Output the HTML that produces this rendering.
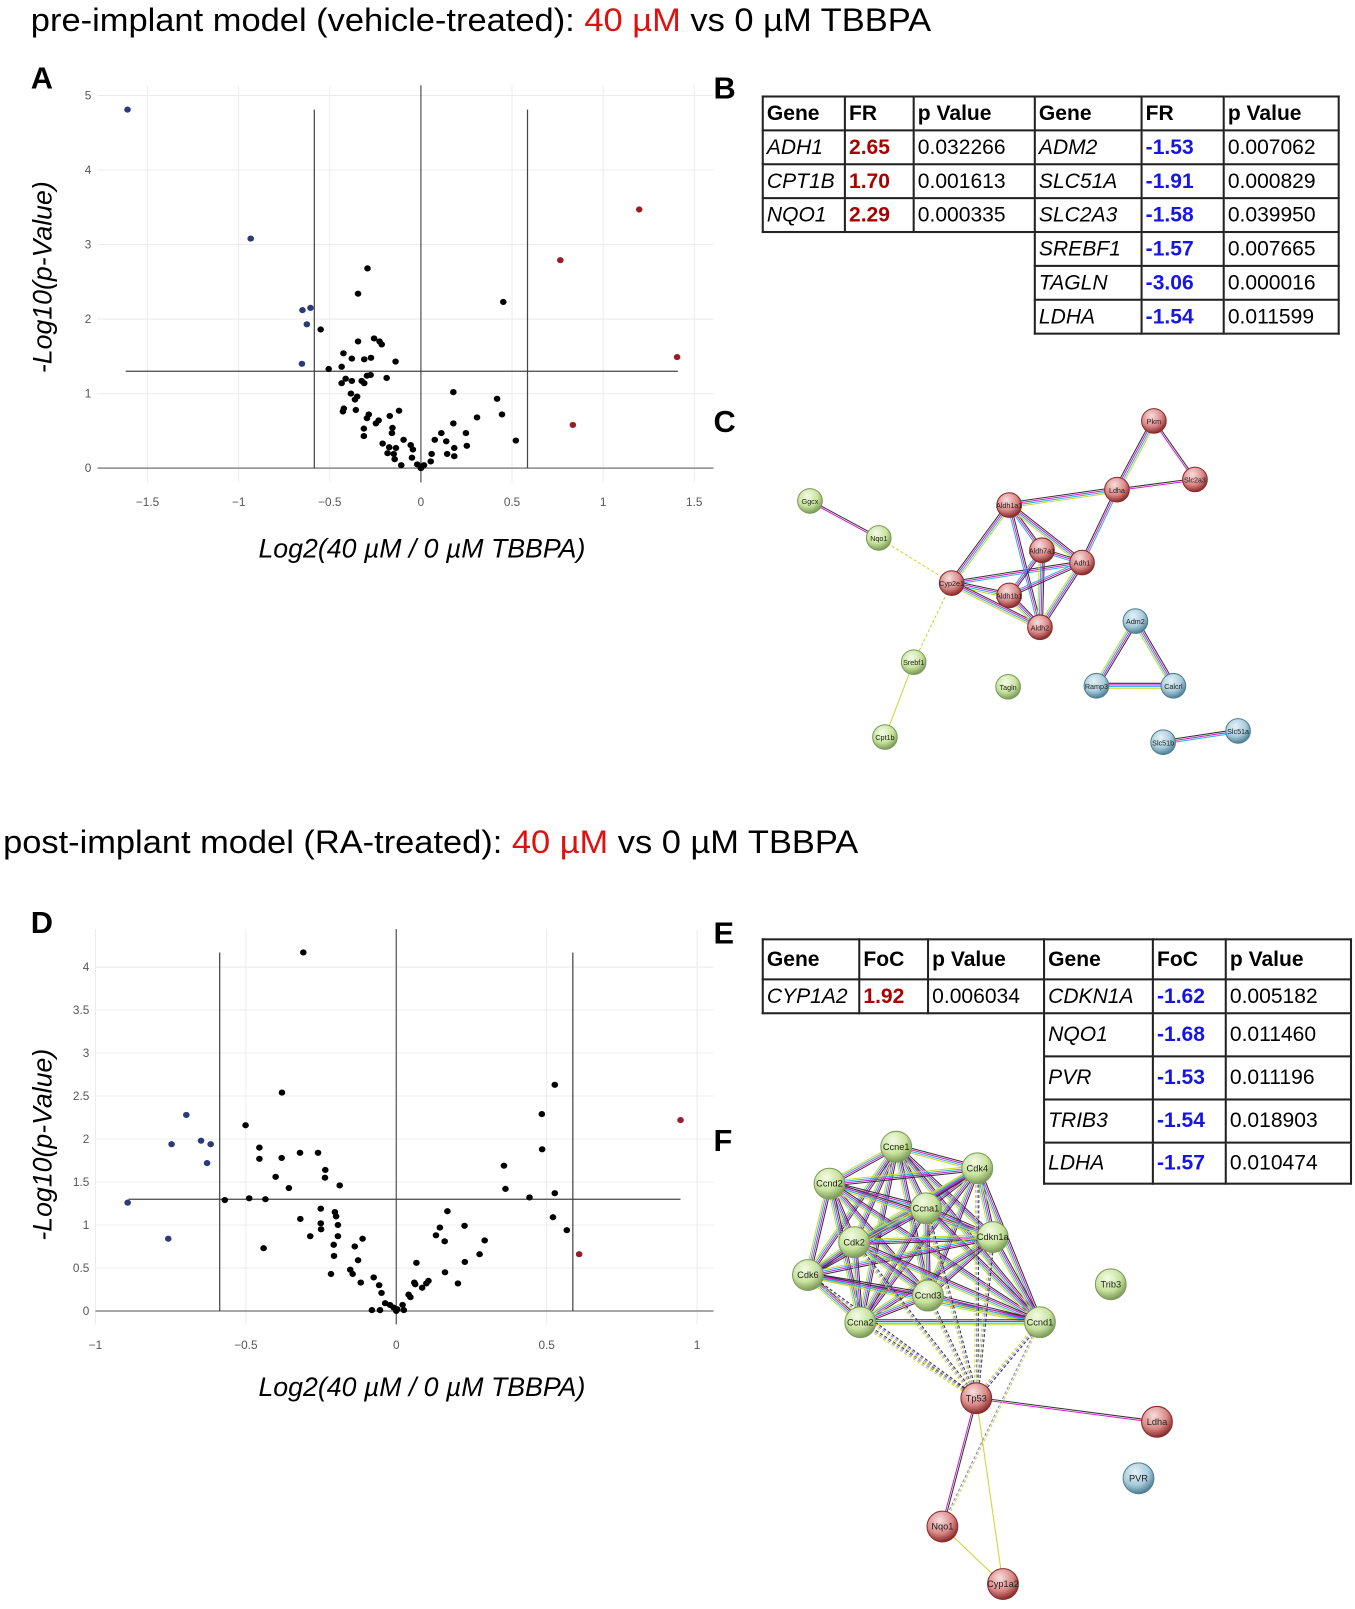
<!DOCTYPE html>
<html><head><meta charset="utf-8">
<style>
body{margin:0;background:#fff;width:1355px;height:1609px;position:relative;overflow:hidden;font-family:"Liberation Sans",sans-serif}
#wrap{position:absolute;left:0;top:0;width:1320px;height:1567px;transform:scale(1.0266);transform-origin:0 0}
table.t{position:absolute;border-collapse:collapse;font-family:"Liberation Sans",sans-serif;font-size:20.5px}
table.t td{border:2px solid #222;padding:0 0 0 3px;height:31px;white-space:nowrap}
table.t td.e{border:none}
.h{font-weight:bold}
.g{font-style:italic}
.r{color:#a00;font-weight:bold}
.b{color:#1515e6;font-weight:bold}
</style></head>
<body>
<div id="wrap">
<svg id="main" width="1320" height="1567" style="position:absolute;left:0;top:0" font-family="Liberation Sans, sans-serif">
<defs>
<radialGradient id="gG" cx="40%" cy="30%" r="70%"><stop offset="0" stop-color="#f4fbe6"/><stop offset="0.6" stop-color="#c7e39c"/><stop offset="1" stop-color="#7d9a5a"/></radialGradient>
<radialGradient id="gR" cx="40%" cy="30%" r="70%"><stop offset="0" stop-color="#f8dede"/><stop offset="0.6" stop-color="#d98a88"/><stop offset="1" stop-color="#8a2a2a"/></radialGradient>
<radialGradient id="gB" cx="40%" cy="30%" r="70%"><stop offset="0" stop-color="#e4f1f7"/><stop offset="0.6" stop-color="#a9ccdb"/><stop offset="1" stop-color="#4f7f94"/></radialGradient>
</defs>
<text x="30" y="30" font-size="32" textLength="877" lengthAdjust="spacingAndGlyphs">pre-implant model (vehicle-treated): <tspan fill="#e01010">40 µM</tspan> vs 0 µM TBBPA</text>
<text x="3" y="831" font-size="32" textLength="833" lengthAdjust="spacingAndGlyphs">post-implant model (RA-treated): <tspan fill="#e01010">40 µM</tspan> vs 0 µM TBBPA</text>
<g font-weight="bold" font-size="30">
<text x="30" y="86">A</text>
<text x="695" y="96">B</text>
<text x="695" y="421">C</text>
<text x="30" y="909">D</text>
<text x="695" y="919">E</text>
<text x="695" y="1121">F</text>
</g>
<g id="chartA"></g>
<g id="chartD"></g>
<g id="netC"></g>
<g id="netF"></g>
</svg>

<table class="t" style="left:742px;top:93px">
<colgroup><col style="width:80px"><col style="width:67px"><col style="width:118px"><col style="width:104px"><col style="width:80px"><col style="width:112px"></colgroup>
<tr><td class="h">Gene</td><td class="h">FR</td><td class="h">p Value</td><td class="h">Gene</td><td class="h">FR</td><td class="h">p Value</td></tr>
<tr><td class="g">ADH1</td><td class="r">2.65</td><td>0.032266</td><td class="g">ADM2</td><td class="b">-1.53</td><td>0.007062</td></tr>
<tr><td class="g">CPT1B</td><td class="r">1.70</td><td>0.001613</td><td class="g">SLC51A</td><td class="b">-1.91</td><td>0.000829</td></tr>
<tr><td class="g">NQO1</td><td class="r">2.29</td><td>0.000335</td><td class="g">SLC2A3</td><td class="b">-1.58</td><td>0.039950</td></tr>
<tr><td class="e"></td><td class="e"></td><td class="e"></td><td class="g">SREBF1</td><td class="b">-1.57</td><td>0.007665</td></tr>
<tr><td class="e"></td><td class="e"></td><td class="e"></td><td class="g">TAGLN</td><td class="b">-3.06</td><td>0.000016</td></tr>
<tr><td class="e"></td><td class="e"></td><td class="e"></td><td class="g">LDHA</td><td class="b">-1.54</td><td>0.011599</td></tr>
</table>

<table class="t" style="left:742px;top:914px">
<colgroup><col style="width:94px"><col style="width:67px"><col style="width:113px"><col style="width:106px"><col style="width:71px"><col style="width:122px"></colgroup>
<tr style="height:39px"><td class="h">Gene</td><td class="h">FoC</td><td class="h">p Value</td><td class="h">Gene</td><td class="h">FoC</td><td class="h">p Value</td></tr>
<tr style="height:32px"><td class="g">CYP1A2</td><td class="r">1.92</td><td>0.006034</td><td class="g">CDKN1A</td><td class="b">-1.62</td><td>0.005182</td></tr>
<tr style="height:42px"><td class="e"></td><td class="e"></td><td class="e"></td><td class="g">NQO1</td><td class="b">-1.68</td><td>0.011460</td></tr>
<tr style="height:42px"><td class="e"></td><td class="e"></td><td class="e"></td><td class="g">PVR</td><td class="b">-1.53</td><td>0.011196</td></tr>
<tr style="height:42px"><td class="e"></td><td class="e"></td><td class="e"></td><td class="g">TRIB3</td><td class="b">-1.54</td><td>0.018903</td></tr>
<tr style="height:40px"><td class="e"></td><td class="e"></td><td class="e"></td><td class="g">LDHA</td><td class="b">-1.57</td><td>0.010474</td></tr>
</table>
</div>

<script>
// ---- Panel A data ----
const aBlueX=[-1.61,-0.934,-0.65,-0.606,-0.626,-0.653];
const aBlueY=[4.81,3.08,2.12,2.15,1.93,1.40];
const aRedX=[1.198,0.765,1.406,0.834];
const aRedY=[3.47,2.79,1.49,0.58];
const aBlackX=[-0.293,-0.345,0.452,-0.55,-0.345,-0.257,-0.227,-0.215,-0.425,-0.379,-0.311,-0.274,-0.139,-0.506,-0.435,-0.296,-0.276,-0.188,-0.413,-0.435,-0.379,-0.325,-0.311,-0.384,-0.35,-0.362,0.178,0.418,0.445,-0.423,-0.428,-0.357,-0.286,-0.296,-0.232,-0.247,-0.171,-0.12,-0.313,-0.313,-0.156,-0.159,-0.21,-0.095,-0.174,-0.137,-0.183,-0.149,-0.144,-0.108,-0.056,-0.044,-0.049,-0.02,0,0.017,0.005,0.054,0.059,0.076,0.112,0.139,0.144,0.178,0.183,0.183,0.247,0.252,0.308,0.521];
const aBlackY=[2.68,2.34,2.23,1.86,1.70,1.74,1.70,1.66,1.54,1.47,1.46,1.48,1.43,1.33,1.36,1.24,1.25,1.21,1.20,1.14,1.17,1.17,1.14,1.00,0.96,0.92,1.02,0.93,0.72,0.80,0.76,0.78,0.72,0.67,0.64,0.60,0.70,0.77,0.53,0.43,0.54,0.47,0.33,0.38,0.28,0.27,0.20,0.19,0.12,0.04,0.31,0.25,0.14,0.05,0,0.04,0.02,0.09,0.19,0.38,0.47,0.36,0.19,0.60,0.27,0.16,0.47,0.30,0.68,0.37];
const aXTicks=[-1.5,-1,-0.5,0,0.5,1,1.5];
const aXTickLabels=["\u22121.5","\u22121","\u22120.5","0","0.5","1","1.5"];
const aYTicks=[0,1,2,3,4,5];
const aYTickLabels=["0","1","2","3","4","5"];
// ---- Panel D data ----
const dBlueX=[-0.893,-0.758,-0.747,-0.698,-0.649,-0.617,-0.629];
const dBlueY=[1.26,0.84,1.94,2.28,1.98,1.94,1.72];
const dRedX=[0.945,0.608];
const dRedY=[2.22,0.66];
const dBlackX=[-0.309,-0.38,0.527,0.484,0.485,-0.501,-0.455,-0.455,-0.381,-0.32,-0.26,-0.236,-0.237,-0.401,-0.357,-0.188,0.358,0.363,0.443,0.527,-0.57,-0.489,-0.435,-0.251,-0.204,-0.2,-0.194,-0.319,-0.251,-0.25,-0.286,-0.194,-0.112,-0.208,-0.138,-0.441,-0.127,-0.207,-0.153,-0.145,-0.217,-0.118,-0.075,-0.057,-0.049,-0.081,-0.054,-0.037,-0.021,-0.009,0,0.003,0.021,0.025,0.041,0.047,0.06,0.063,0.067,0.086,0.1,0.107,0.132,0.145,0.161,0.17,0.162,0.205,0.227,0.228,0.277,0.294,0.521,0.567];
const dBlackY=[4.17,2.54,2.63,2.29,1.88,2.16,1.90,1.77,1.78,1.84,1.84,1.64,1.55,1.56,1.43,1.46,1.69,1.42,1.32,1.37,1.29,1.31,1.30,1.19,1.15,1.10,1.00,1.07,1.02,0.95,0.87,0.87,0.84,0.77,0.75,0.73,0.59,0.64,0.48,0.43,0.43,0.33,0.39,0.30,0.21,0.01,0.01,0.09,0.07,0.04,0,0.02,0.07,0.01,0.19,0.16,0.33,0.31,0.56,0.27,0.32,0.35,0.88,0.97,0.81,1.16,0.45,0.32,0.99,0.57,0.66,0.82,1.09,0.94];
const dXTicks=[-1,-0.5,0,0.5,1];
const dXTickLabels=["\u22121","\u22120.5","0","0.5","1"];
const dYTicks=[0,0.5,1,1.5,2,2.5,3,3.5,4];
const dYTickLabels=["0","0.5","1","1.5","2","2.5","3","3.5","4"];

const NS="http://www.w3.org/2000/svg";
function mk(parent,tag,attrs){const e=document.createElementNS(NS,tag);for(const k in attrs)e.setAttribute(k,attrs[k]);parent.appendChild(e);return e;}

function volcano(g,cfg){
  const X=v=>cfg.x0+v*cfg.xs, Y=v=>cfg.y0-v*cfg.ys;
  cfg.xTicks.forEach((t,i)=>{
    const l=mk(g,'line',{x1:X(t),x2:X(t),y1:cfg.top,y2:cfg.bottom,stroke:'#ececec','stroke-width':1});
    
    
    const tx=mk(g,'text',{x:X(t),y:cfg.xLabY,'font-size':11.5,fill:'#555','text-anchor':'middle'});
    
    
    tx.textContent=cfg.xLabels[i];
  });
  cfg.yTicks.forEach((t,i)=>{
    if(t!==0){const l=mk(g,'line',{x1:cfg.left,x2:cfg.right,y1:Y(t),y2:Y(t),stroke:'#ececec','stroke-width':1});
    
    }
    const tx=mk(g,'text',{x:cfg.left-6,y:Y(t)+4,'font-size':11.5,fill:'#555','text-anchor':'end'});
    
    
    tx.textContent=cfg.yLabels[i];
  });
  const z=mk(g,'line',{x1:cfg.left,x2:cfg.right,y1:Y(0),y2:Y(0),stroke:'#888','stroke-width':1.5});
  
  
  const c=mk(g,'line',{x1:X(0),x2:X(0),y1:cfg.top,y2:cfg.bottom,stroke:'#555','stroke-width':1.2});
  
  
  [-cfg.fc,cfg.fc].forEach(f=>{
    const l=mk(g,'line',{x1:X(f),x2:X(f),y1:Y(cfg.vTop),y2:Y(0),stroke:'#444','stroke-width':1.2});
    
    
  });
  const h=mk(g,'line',{x1:X(cfg.hFrom),x2:X(cfg.hTo),y1:Y(1.3),y2:Y(1.3),stroke:'#444','stroke-width':1.2});
  
  
  const pts=(xs,ys,col,name)=>xs.forEach((v,i)=>{
    const p=mk(g,'ellipse',{cx:X(v),cy:Y(ys[i]),rx:3.2,ry:3,fill:col});
    
    
  });
  pts(cfg.bx,cfg.by,'#000','point-not-significant');
  pts(cfg.blx,cfg.bly,'#2a3a7a','point-downregulated');
  pts(cfg.rx,cfg.ry,'#9a1c24','point-upregulated');
  const yt=mk(g,'text',{x:0,y:0,'font-size':26,'font-style':'italic','text-anchor':'middle',transform:`translate(${cfg.yTitleX},${cfg.yTitleY}) rotate(-90)`});
  
  
  yt.textContent='-Log10(p-Value)';
  const xt=mk(g,'text',{x:cfg.xTitleX,y:cfg.xTitleY,'font-size':26,'font-style':'italic','text-anchor':'middle'});
  
  
  xt.textContent='Log2(40 µM / 0 µM TBBPA)';
}
volcano(document.getElementById('chartA'),{x0:410,xs:177.5,y0:456,ys:72.6,left:95,right:695,top:83,bottom:470,
  xTicks:aXTicks,xLabels:aXTickLabels,yTicks:aYTicks,yLabels:aYTickLabels,xLabY:493,fc:0.585,vTop:4.81,hFrom:-1.62,hTo:1.41,
  bx:aBlackX,by:aBlackY,blx:aBlueX,bly:aBlueY,rx:aRedX,ry:aRedY,yTitleX:50,yTitleY:270,xTitleX:411,xTitleY:543});
volcano(document.getElementById('chartD'),{x0:386,xs:293,y0:1277,ys:83.75,left:93,right:695,top:905,bottom:1290,
  xTicks:dXTicks,xLabels:dXTickLabels,yTicks:dYTicks,yLabels:dYTickLabels,xLabY:1314,fc:0.587,vTop:4.17,hFrom:-0.89,hTo:0.945,
  bx:dBlackX,by:dBlackY,blx:dBlueX,bly:dBlueY,rx:dRedX,ry:dRedY,yTitleX:50,yTitleY:1115,xTitleX:411,xTitleY:1360});

// ---- networks ----
const cols=['#333','#d020d0','#30b0e0','#c8d830','#8a7ae0'];
function edge(g,a,b,n,dashed){
  const dx=b[0]-a[0],dy=b[1]-a[1],L=Math.hypot(dx,dy),px=-dy/L,py=dx/L;
  for(let i=0;i<n;i++){
    const o=(i-(n-1)/2)*1.6;
    const col=n===1?'#c8d830':cols[(i+(dashed?3:0))%cols.length];
    const l=mk(g,'line',{x1:a[0]+px*o,y1:a[1]+py*o,x2:b[0]+px*o,y2:b[1]+py*o,stroke:col,'stroke-width':1});
    if(dashed)l.setAttribute('stroke-dasharray','3,2');
    
    
  }
}
function node(g,p,label,grad,r){
  const c=mk(g,'circle',{cx:p[0],cy:p[1],r:r,fill:`url(#${grad})`,stroke:grad==='gR'?'#8a2a2a':(grad==='gB'?'#4f7f94':'#7d9a5a'),'stroke-width':1});
  
  
  const t=mk(g,'text',{x:p[0],y:p[1]+3,'font-size':r>13?9:7,'text-anchor':'middle',fill:'#222'});
  
  
  t.textContent=label;
}
const C={Ggcx:[789,488,'gG'],Nqo1:[856,524,'gG'],Cyp2e1:[927,568,'gR'],Aldh1a1:[983,492,'gR'],Aldh7a1:[1015,536,'gR'],Adh1:[1054,548,'gR'],Aldh1b1:[983,580,'gR'],Aldh2:[1013,611,'gR'],Ldha:[1088,477,'gR'],Pkm:[1124,410,'gR'],Slc2a3:[1164,467,'gR'],Adm2:[1106,605,'gB'],Ramp3:[1068,668,'gB'],Calcrl:[1143,668,'gB'],Srebf1:[890,645,'gG'],Tagln:[982,669,'gG'],Cpt1b:[862,718,'gG'],Slc51b:[1133,723,'gB'],Slc51a:[1206,712,'gB']};
const CE=[['Ggcx','Nqo1',2],['Nqo1','Cyp2e1',1,1],['Cyp2e1','Srebf1',1,1],['Srebf1','Cpt1b',1],['Cyp2e1','Aldh1a1',4],['Cyp2e1','Adh1',3],['Cyp2e1','Aldh1b1',4],['Cyp2e1','Aldh2',4],['Aldh1a1','Aldh7a1',3],['Aldh1a1','Adh1',4],['Aldh1a1','Aldh2',3],['Aldh1a1','Ldha',4],['Aldh7a1','Aldh1b1',3],['Aldh7a1','Aldh2',4],['Aldh7a1','Adh1',3],['Adh1','Aldh1b1',3],['Adh1','Aldh2',4],['Aldh1b1','Aldh2',4],['Adh1','Ldha',3],['Ldha','Pkm',4],['Ldha','Slc2a3',2],['Pkm','Slc2a3',2],['Adm2','Ramp3',4],['Adm2','Calcrl',4],['Ramp3','Calcrl',4],['Slc51b','Slc51a',3]];
const gC=document.getElementById('netC');
CE.forEach(e=>edge(gC,C[e[0]],C[e[1]],e[2],e[3]));
for(const k in C)node(gC,C[k],k,C[k][2],12);

const F={Ccne1:[873,1117,'gG'],Cdk4:[952,1138,'gG'],Ccnd2:[808,1153,'gG'],Ccna1:[902,1177,'gG'],Cdkn1a:[967,1205,'gG'],Cdk2:[832,1210,'gG'],Cdk6:[787,1242,'gG'],Ccnd3:[904,1262,'gG'],Ccna2:[838,1288,'gG'],Ccnd1:[1013,1288,'gG'],Tp53:[951,1362,'gR'],Ldha:[1127,1385,'gR'],PVR:[1109,1440,'gB'],Trib3:[1082,1251,'gG'],Nqo1:[918,1487,'gR'],Cyp1a2:[977,1543,'gR']};
const gF=document.getElementById('netF');
const cluster=['Ccne1','Cdk4','Ccnd2','Ccna1','Cdkn1a','Cdk2','Cdk6','Ccnd3','Ccna2','Ccnd1'];
for(let i=0;i<cluster.length;i++)for(let j=i+1;j<cluster.length;j++)edge(gF,F[cluster[i]],F[cluster[j]],4);
['Ccna2','Cdk2','Cdk6','Ccnd3','Ccna1','Cdk4','Cdkn1a','Ccnd1'].forEach(k=>edge(gF,F.Tp53,F[k],3,1));
edge(gF,F.Tp53,F.Ldha,2);edge(gF,F.Tp53,F.Nqo1,2);edge(gF,F.Tp53,F.Cyp1a2,1);edge(gF,F.Nqo1,F.Cyp1a2,1);edge(gF,F.Ccnd1,F.Nqo1,2,1);
for(const k in F)node(gF,F[k],k,F[k][2],15);
</script>
</body></html>
